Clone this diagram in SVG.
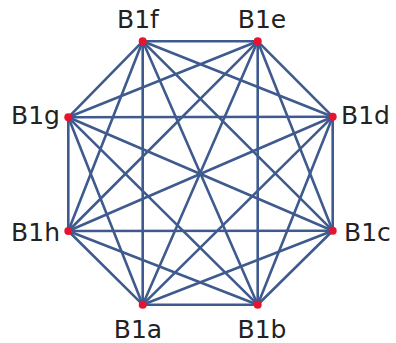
<svg xmlns="http://www.w3.org/2000/svg" width="396" height="343" viewBox="0 0 396 343">
<style>
.e{stroke:#3f5a8e;stroke-width:2.6;fill:none;stroke-linecap:round}
.n{fill:#e8142f}
.t{font-family:"DejaVu Sans",sans-serif;font-size:25px;fill:#222}
</style>
<rect width="396" height="343" fill="#fff"/>
<g id="edges">
<line class="e" x1="142.7" y1="304.7" x2="257.7" y2="304.7"/>
<line class="e" x1="142.7" y1="304.7" x2="332.7" y2="230.7"/>
<line class="e" x1="142.7" y1="304.7" x2="332.7" y2="116.7"/>
<line class="e" x1="142.7" y1="304.7" x2="257.7" y2="41.3"/>
<line class="e" x1="142.7" y1="304.7" x2="142.7" y2="41.3"/>
<line class="e" x1="142.7" y1="304.7" x2="68.3" y2="117.3"/>
<line class="e" x1="142.7" y1="304.7" x2="68.3" y2="231"/>
<line class="e" x1="257.7" y1="304.7" x2="332.7" y2="230.7"/>
<line class="e" x1="257.7" y1="304.7" x2="332.7" y2="116.7"/>
<line class="e" x1="257.7" y1="304.7" x2="257.7" y2="41.3"/>
<line class="e" x1="257.7" y1="304.7" x2="142.7" y2="41.3"/>
<line class="e" x1="257.7" y1="304.7" x2="68.3" y2="117.3"/>
<line class="e" x1="257.7" y1="304.7" x2="68.3" y2="231"/>
<line class="e" x1="332.7" y1="230.7" x2="332.7" y2="116.7"/>
<line class="e" x1="332.7" y1="230.7" x2="257.7" y2="41.3"/>
<line class="e" x1="332.7" y1="230.7" x2="142.7" y2="41.3"/>
<line class="e" x1="332.7" y1="230.7" x2="68.3" y2="117.3"/>
<line class="e" x1="332.7" y1="230.7" x2="68.3" y2="231"/>
<line class="e" x1="332.7" y1="116.7" x2="257.7" y2="41.3"/>
<line class="e" x1="332.7" y1="116.7" x2="142.7" y2="41.3"/>
<line class="e" x1="332.7" y1="116.7" x2="68.3" y2="117.3"/>
<line class="e" x1="332.7" y1="116.7" x2="68.3" y2="231"/>
<line class="e" x1="257.7" y1="41.3" x2="142.7" y2="41.3"/>
<line class="e" x1="257.7" y1="41.3" x2="68.3" y2="117.3"/>
<line class="e" x1="257.7" y1="41.3" x2="68.3" y2="231"/>
<line class="e" x1="142.7" y1="41.3" x2="68.3" y2="117.3"/>
<line class="e" x1="142.7" y1="41.3" x2="68.3" y2="231"/>
<line class="e" x1="68.3" y1="117.3" x2="68.3" y2="231"/>
</g>
<g id="B1a"><circle class="n" cx="142.7" cy="304.7" r="4"/><text class="t" x="138" y="338" text-anchor="middle">B1a</text></g>
<g id="B1b"><circle class="n" cx="257.7" cy="304.7" r="4"/><text class="t" x="262" y="338" text-anchor="middle">B1b</text></g>
<g id="B1c"><circle class="n" cx="332.7" cy="230.7" r="4"/><text class="t" x="344" y="241" text-anchor="start">B1c</text></g>
<g id="B1d"><circle class="n" cx="332.7" cy="116.7" r="4"/><text class="t" x="341" y="124" text-anchor="start">B1d</text></g>
<g id="B1e"><circle class="n" cx="257.7" cy="41.3" r="4"/><text class="t" x="262" y="28" text-anchor="middle">B1e</text></g>
<g id="B1f"><circle class="n" cx="142.7" cy="41.3" r="4"/><text class="t" x="138" y="28" text-anchor="middle">B1f</text></g>
<g id="B1g"><circle class="n" cx="68.3" cy="117.3" r="4"/><text class="t" x="60" y="124" text-anchor="end">B1g</text></g>
<g id="B1h"><circle class="n" cx="68.3" cy="231" r="4"/><text class="t" x="60" y="241" text-anchor="end">B1h</text></g>
</svg>
